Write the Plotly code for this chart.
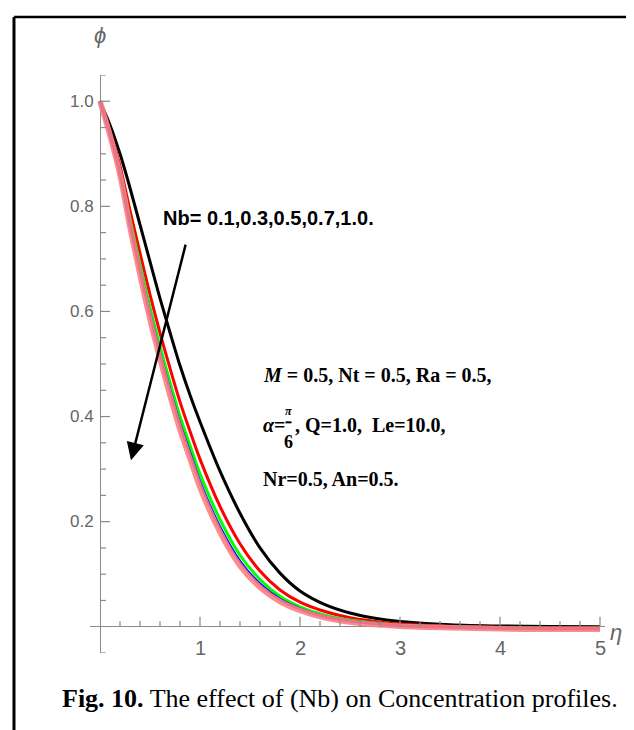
import plotly.graph_objects as go

# ---------------- data ----------------
eta = [0, 0.1, 0.2, 0.3, 0.4, 0.5, 0.6, 0.7, 0.8, 0.9, 1.0, 1.2, 1.4, 1.6, 1.8,
       2.0, 2.25, 2.5, 2.75, 3.0, 3.5, 4.0, 4.5, 5.0]

phi_nb01 = [1.0, 0.955, 0.90, 0.835, 0.765, 0.695, 0.625, 0.56, 0.497, 0.441, 0.39,
            0.296, 0.216, 0.150, 0.102, 0.068, 0.042, 0.026, 0.016, 0.010, 0.004,
            0.0015, 0.0005, 0.0]
phi_nb03 = [1.0, 0.944, 0.877, 0.792, 0.711, 0.632, 0.559, 0.492, 0.428, 0.372, 0.319,
            0.229, 0.158, 0.106, 0.070, 0.047, 0.029, 0.017, 0.010, 0.005, 0.001,
            -0.001, -0.002, -0.002]
phi_nb05 = [1.0, 0.939, 0.868, 0.776, 0.69, 0.608, 0.534, 0.465, 0.40, 0.345, 0.291,
            0.204, 0.136, 0.090, 0.058, 0.038, 0.022, 0.013, 0.007, 0.003, 0.0,
            -0.002, -0.003, -0.003]
phi_nb07 = [1.0, 0.937, 0.863, 0.766, 0.678, 0.594, 0.519, 0.45, 0.385, 0.33, 0.275,
            0.189, 0.124, 0.081, 0.052, 0.034, 0.019, 0.011, 0.006, 0.002, -0.001,
            -0.003, -0.004, -0.004]
phi_nb10 = [1.0, 0.935, 0.86, 0.76, 0.67, 0.585, 0.51, 0.44, 0.375, 0.32, 0.265,
            0.18, 0.116, 0.075, 0.048, 0.031, 0.017, 0.009, 0.004, 0.001, -0.002,
            -0.004, -0.005, -0.005]

series_names = ["Nb=0.1", "Nb=0.3", "Nb=0.5", "Nb=0.7", "Nb=1.0"]
series_vals = [phi_nb01, phi_nb03, phi_nb05, phi_nb07, phi_nb10]

x_major = [1, 2, 3, 4, 5]
x_labels = ["1", "2", "3", "4", "5"]
x_minor = [0.2, 0.4, 0.6, 0.8, 1.2, 1.4, 1.6, 1.8, 2.2, 2.4, 2.6, 2.8,
           3.2, 3.4, 3.6, 3.8, 4.2, 4.4, 4.6, 4.8]
y_major = [0.2, 0.4, 0.6, 0.8, 1.0]
y_labels = ["0.2", "0.4", "0.6", "0.8", "1.0"]
y_minor = [-0.05, 0.05, 0.1, 0.15, 0.25, 0.3, 0.35, 0.45, 0.5, 0.55, 0.65,
           0.7, 0.75, 0.85, 0.9, 0.95, 1.05]

# ---------------- styles ----------------
colors = ["#000000", "#FF0000", "#00FF00", "#0000FF", "#FF8080"]
widths = [3, 3, 3, 3, 5.5]
opac = [1, 1, 1, 1, 0.9]
AXC = "#8a8a8a"
LBLC = "#666666"
NARROW = "Liberation Sans Narrow, Arial Narrow, Liberation Sans, sans-serif"
SERIF = "Liberation Serif, Times New Roman, serif"

fig = go.Figure()

for name, vals, c, w, o in zip(series_names, series_vals, colors, widths, opac):
    fig.add_trace(go.Scatter(x=eta, y=vals, mode="lines", name=name,
                             line=dict(color=c, width=w, shape="spline", smoothing=0.8),
                             opacity=o, showlegend=False, hoverinfo="skip"))

# tick marks
XMAJ_LEN, XMIN_LEN = 0.019, 0.011
YMAJ_LEN, YMIN_LEN = 0.10, 0.06
tx, ty = [], []
for v in x_major:
    tx += [v, v, None]; ty += [0, XMAJ_LEN, None]
for v in x_minor:
    tx += [v, v, None]; ty += [0, XMIN_LEN, None]
for v in y_major:
    tx += [0, YMAJ_LEN, None]; ty += [v, v, None]
for v in y_minor:
    tx += [0, YMIN_LEN, None]; ty += [v, v, None]
fig.add_trace(go.Scatter(x=tx, y=ty, mode="lines", line=dict(color=AXC, width=1.2),
                         showlegend=False, hoverinfo="skip"))

ann = []
for v, t in zip(x_major, x_labels):
    ann.append(dict(x=v, y=-0.041, xref="x", yref="y", text=t, showarrow=False,
                    font=dict(family=NARROW, size=20, color=LBLC), xanchor="center", yanchor="middle"))
for v, t in zip(y_major, y_labels):
    ann.append(dict(x=-0.045, y=v, xref="x", yref="y", text=t, showarrow=False,
                    font=dict(family=NARROW, size=17, color=LBLC), xanchor="right", yanchor="middle"))

# axis titles (paper refs so they are drawn outside the axis range)
ann.append(dict(x=0.0194, y=1.068, xref="paper", yref="paper", text="<i>ϕ</i>", showarrow=False,
                font=dict(family=NARROW, size=22, color=LBLC), xanchor="center", yanchor="middle"))
ann.append(dict(x=1.022, y=0.036, xref="paper", yref="paper", text="<i>η</i>", showarrow=False,
                font=dict(family=NARROW, size=22, color=LBLC), xanchor="center", yanchor="middle"))

# arrow
ann.append(dict(x=0.31, y=0.317, ax=0.86, ay=0.73, xref="x", yref="y", axref="x", ayref="y",
                text="", showarrow=True, arrowhead=2, arrowsize=1.4, arrowwidth=2.5,
                arrowcolor="#000000", standoff=0, startstandoff=0))

ann.append(dict(x=0.61, y=0.778, xref="x", yref="y", text="<b>Nb= 0.1,0.3,0.5,0.7,1.0.</b>",
                showarrow=False, font=dict(family=NARROW, size=20, color="#000000"),
                xanchor="left", yanchor="middle"))

PF = dict(family=SERIF, size=20, color="#000000")
ann.append(dict(x=1.61, y=0.48, xref="x", yref="y",
                text="<b><i>M</i> = 0.5, Nt = 0.5, Ra = 0.5,</b>",
                showarrow=False, font=PF, xanchor="left", yanchor="middle"))
ann.append(dict(x=1.61, y=0.384, xref="x", yref="y", text="<b><i>α</i>=</b>",
                showarrow=False, font=PF, xanchor="left", yanchor="middle"))
ann.append(dict(x=1.885, y=0.410, xref="x", yref="y", text="<b><i>π</i></b>",
                showarrow=False, font=dict(family=SERIF, size=12, color="#000000"),
                xanchor="center", yanchor="middle"))
ann.append(dict(x=1.885, y=0.352, xref="x", yref="y", text="<b>6</b>",
                showarrow=False, font=dict(family=SERIF, size=18, color="#000000"),
                xanchor="center", yanchor="middle"))
ann.append(dict(x=1.925, y=0.384, xref="x", yref="y", text="<b>, Q=1.0,  Le=10.0,</b>",
                showarrow=False, font=PF, xanchor="left", yanchor="middle"))
ann.append(dict(x=1.61, y=0.282, xref="x", yref="y", text="<b>Nr=0.5, An=0.5.</b>",
                showarrow=False, font=PF, xanchor="left", yanchor="middle"))

# caption
ann.append(dict(x=0.485, y=-0.079, xref="paper", yref="paper",
                text="<b>Fig. 10.</b> The effect of (Nb) on Concentration profiles.",
                showarrow=False, font=dict(family=SERIF, size=26, color="#000000"),
                xanchor="center", yanchor="middle"))

shapes = [
    dict(type="line", xref="paper", yref="paper", x0=-0.1476, x1=-0.1476, y0=1.1003, y1=-0.16,
         line=dict(color="#000000", width=3)),
    dict(type="line", xref="paper", yref="paper", x0=-0.1476, x1=1.08, y0=1.1003, y1=1.1003,
         line=dict(color="#000000", width=2.5)),
    # fraction bar of pi/6
    dict(type="line", xref="x", yref="y", x0=1.855, x1=1.915, y0=0.389, y1=0.389,
         line=dict(color="#000000", width=2)),
]

fig.update_layout(
    width=634, height=730,
    margin=dict(l=82, r=37, t=67, b=85),
    paper_bgcolor="white", plot_bgcolor="white",
    xaxis=dict(range=[-0.1, 5.05], showgrid=False, showticklabels=False, ticks="",
               zeroline=True, zerolinecolor=AXC, zerolinewidth=1.3, showline=False, fixedrange=True),
    yaxis=dict(range=[-0.05, 1.05], showgrid=False, showticklabels=False, ticks="",
               zeroline=True, zerolinecolor=AXC, zerolinewidth=1.3, showline=False, fixedrange=True),
    annotations=ann, shapes=shapes, showlegend=False,
)

fig.write_html("out.html")
